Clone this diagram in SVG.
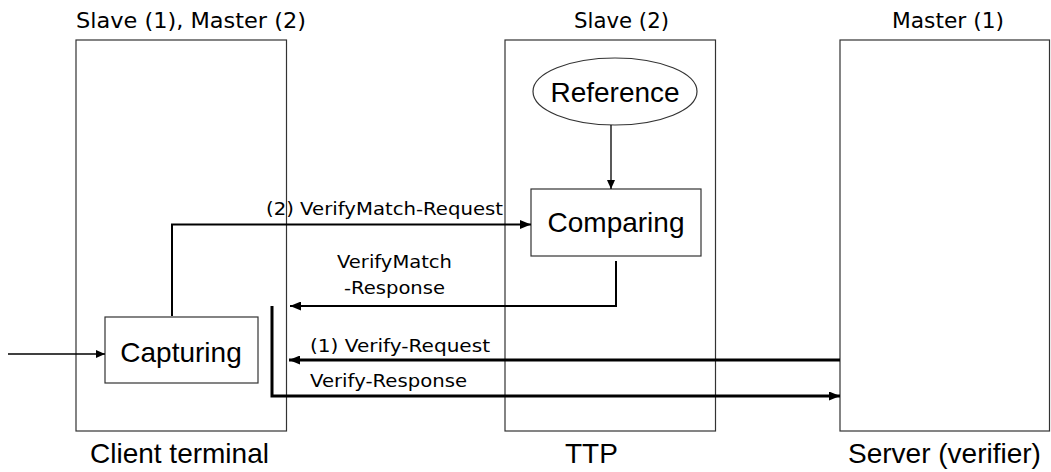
<svg xmlns="http://www.w3.org/2000/svg" width="1051" height="472" viewBox="0 0 1051 472">
<style>
.box{fill:#fff;stroke:#333;stroke-width:1.2}
.top{font-family:"DejaVu Sans",Verdana,sans-serif;font-size:21px;fill:#000}
.mid{font-family:"DejaVu Sans",Verdana,sans-serif;font-size:18px;fill:#000}
.big{font-family:"Liberation Sans",Arial,sans-serif;font-size:28px;fill:#000}
.thin{fill:none;stroke:#000;stroke-width:1.3}
.med{fill:none;stroke:#000;stroke-width:2}
.thick{fill:none;stroke:#000;stroke-width:3}
</style>
<defs>
<marker id="aS" markerUnits="userSpaceOnUse" markerWidth="9" markerHeight="8" refX="9" refY="4" orient="auto"><path d="M0,0 L9,4 L0,8 z" fill="#000"/></marker>
<marker id="aL" markerUnits="userSpaceOnUse" markerWidth="11" markerHeight="9" refX="11" refY="4.5" orient="auto"><path d="M0,0 L11,4.5 L0,9 z" fill="#000"/></marker>
</defs>
<g id="client">
<rect class="box" x="76" y="40" width="210.5" height="391"/>
<text class="top" x="76" y="28" textLength="230" lengthAdjust="spacingAndGlyphs">Slave (1), Master (2)</text>
<text class="big" x="90" y="463">Client terminal</text>
</g>
<g id="ttp">
<rect class="box" x="505" y="40" width="210.5" height="391"/>
<text class="top" x="574" y="28" textLength="95" lengthAdjust="spacingAndGlyphs">Slave (2)</text>
<text class="big" x="565" y="463">TTP</text>
</g>
<g id="server">
<rect class="box" x="840" y="40" width="209.5" height="391"/>
<text class="top" x="892" y="28" textLength="112" lengthAdjust="spacingAndGlyphs">Master (1)</text>
<text class="big" x="848" y="463">Server (verifier)</text>
</g>
<g id="reference">
<ellipse class="box" cx="615" cy="91.5" rx="82" ry="33.5"/>
<text class="big" x="615" y="101.5" text-anchor="middle">Reference</text>
</g>
<g id="comparing">
<rect class="box" x="531" y="189" width="170" height="67"/>
<text class="big" x="616" y="232" text-anchor="middle">Comparing</text>
</g>
<g id="capturing">
<rect class="box" x="105" y="317" width="153" height="66"/>
<text class="big" x="181" y="361.5" text-anchor="middle">Capturing</text>
</g>
<g id="connectors">
<line class="thin" x1="611" y1="125" x2="611" y2="189" marker-end="url(#aS)"/>
<line class="thin" x1="8" y1="354" x2="105" y2="354" marker-end="url(#aS)"/>
<polyline class="med" points="172,316 172,224.5 531,224.5" marker-end="url(#aL)"/>
<polyline class="med" points="616,261 616,306 290,306" marker-end="url(#aL)"/>
<line class="thick" x1="840" y1="360" x2="289" y2="360" marker-end="url(#aL)"/>
<polyline class="thick" points="272,306 272,396 840,396" marker-end="url(#aL)"/>
<text class="mid" x="266" y="215" textLength="237" lengthAdjust="spacingAndGlyphs">(2) VerifyMatch-Request</text>
<text class="mid" x="337" y="268" textLength="115" lengthAdjust="spacingAndGlyphs">VerifyMatch</text>
<text class="mid" x="344" y="294" textLength="101" lengthAdjust="spacingAndGlyphs">-Response</text>
<text class="mid" x="310" y="352" textLength="180" lengthAdjust="spacingAndGlyphs">(1) Verify-Request</text>
<text class="mid" x="310" y="387" textLength="157" lengthAdjust="spacingAndGlyphs">Verify-Response</text>
</g>
</svg>
